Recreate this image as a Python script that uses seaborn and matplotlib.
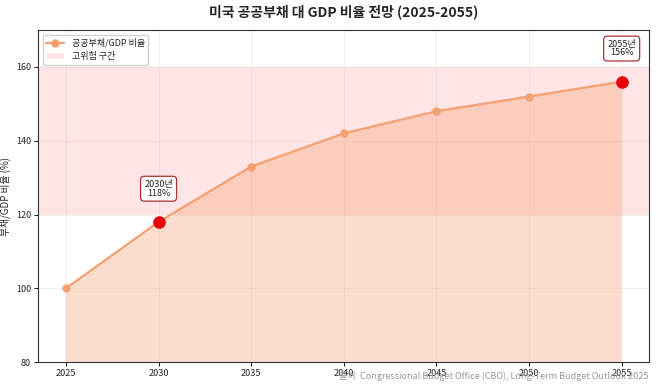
import numpy as np
import pandas as pd
import matplotlib.pyplot as plt
import seaborn as sns

years = [2025, 2030, 2035, 2040, 2045, 2050, 2055]
ratio = [100, 118, 133, 142, 148, 152, 156]
highlight_years = [2030, 2055]
highlight_labels = ['2030년\n118%', '2055년\n156%']
label_offsets = [9, 9]

sns.set_style('white')
plt.rcParams['font.family'] = ['Noto Sans CJK KR', 'DejaVu Sans']

df = pd.DataFrame({'year': years, 'ratio': ratio})

fig, ax = plt.subplots(figsize=(6.58, 3.86), dpi=100)

ax.axhspan(120, 160, color='#ff9999', alpha=0.25, lw=0, label='고위험 구간')
ax.fill_between(df['year'], df['ratio'], 0, color='#f7a071', alpha=0.35, lw=0)
sns.lineplot(data=df, x='year', y='ratio', ax=ax, color='#f4a071', lw=1.6,
             marker='o', markersize=6, markeredgewidth=0, label='공공부채/GDP 비율')

hl = df[df['year'].isin(highlight_years)]
ax.scatter(hl['year'], hl['ratio'], s=65, color='#e8000b', zorder=5)
for (_, r), txt, off in zip(hl.iterrows(), highlight_labels, label_offsets):
    ax.annotate(txt, (r['year'], r['ratio'] + off), ha='center', va='center', fontsize=6.5,
                linespacing=0.95,
                bbox=dict(boxstyle='round,pad=0.4', fc='white', ec='#a83232', lw=0.9))

ax.set_ylim(80, 170)
ax.set_xlim(2023.5, 2056.5)
ax.set_xticks(years)
ax.set_yticks([80, 100, 120, 140, 160])
ax.tick_params(labelsize=6.5, length=3, pad=2, left=True, bottom=True)
ax.grid(True, color='#dddddd', lw=0.5, alpha=0.6)
ax.set_xlabel('')
ax.set_ylabel('부채/GDP 비율 (%)', fontsize=7, labelpad=3)
for s in ax.spines.values():
    s.set_color('#333333')
    s.set_linewidth(0.8)

h, l = ax.get_legend_handles_labels()
ax.legend(h[::-1], l[::-1], loc='upper left', fontsize=6.5, frameon=True, framealpha=0.9,
          edgecolor='#cccccc')
ax.set_title('미국 공공부채 대 GDP 비율 전망 (2025-2055)', fontsize=10, fontweight='bold', pad=10)
fig.text(0.985, 0.012, '출처: Congressional Budget Office (CBO), Long-Term Budget Outlook 2025',
         ha='right', va='bottom', fontsize=6.5, color='#999999')

fig.subplots_adjust(left=0.058, right=0.987, top=0.922, bottom=0.062)
fig.savefig('out.png', dpi=100)
